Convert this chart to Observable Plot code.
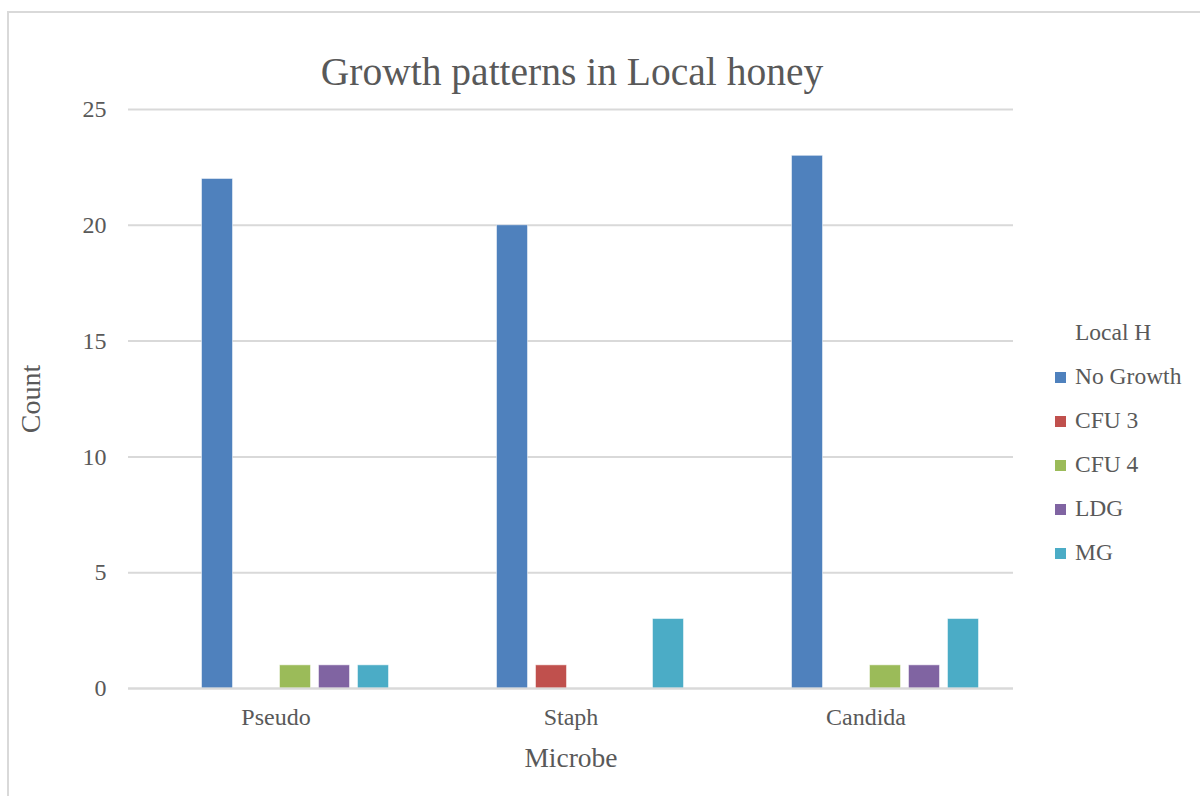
<!DOCTYPE html>
<html>
<head>
<meta charset="utf-8">
<script src="https://cdn.jsdelivr.net/npm/d3@7"></script>
<script src="https://cdn.jsdelivr.net/npm/@observablehq/plot@0.6"></script>
<style>
  body { margin: 0; background: #fff; }
  #wrap { position: relative; width: 1200px; height: 796px; overflow: hidden; font-family: "Liberation Serif", "DejaVu Serif", serif; color: #595959; }
  #wrap svg { position: absolute; left: 0; top: 0; }
  .lbl { position: absolute; white-space: nowrap; color: #595959; }
  #frameL { position: absolute; left: 7px; top: 12px; width: 2px; height: 800px; background: #d9d9d9; }
  #frameT { position: absolute; left: 7px; top: 11px; width: 1200px; height: 2px; background: #d9d9d9; }
  .leg { position: absolute; left: 1055px; font-size: 23.5px; line-height: 24px; color: #595959; white-space: nowrap; }
  .sw { display: inline-block; width: 11px; height: 11px; margin-right: 9px; vertical-align: 1px; }
</style>
</head>
<body>
<div id="wrap">
  <div id="frameL"></div>
  <div id="frameT"></div>
</div>
<script>
const microbes = ["Pseudo", "Staph", "Candida"];
const seriesNames = ["Local H", "No Growth", "CFU 3", "CFU 4", "LDG", "MG"];
const seriesColors = ["#ffffff", "#4F81BD", "#C0504D", "#9BBB59", "#8064A2", "#4BACC6"];
const noGrowth = [22, 20, 23];
const cfu3 = [0, 1, 0];
const cfu4 = [1, 0, 1];
const ldg = [1, 0, 1];
const mg = [1, 3, 3];
const yTicks = [0, 5, 10, 15, 20, 25];

const valuesBySeries = {"No Growth": noGrowth, "CFU 3": cfu3, "CFU 4": cfu4, "LDG": ldg, "MG": mg};
const data = [];
for (const s of seriesNames.slice(1)) {
  microbes.forEach((m, i) => data.push({microbe: m, series: s, value: valuesBySeries[s][i]}));
}

const plot = Plot.plot({
  width: 1200,
  height: 796,
  marginTop: 109,
  marginBottom: 108,
  marginLeft: 128,
  marginRight: 187,
  style: {fontFamily: "'Liberation Serif', 'DejaVu Serif', serif", color: "#595959", background: "transparent"},
  fx: {domain: microbes, padding: 0, label: null, round: false},
  x: {domain: seriesNames, paddingInner: 0.205, paddingOuter: 0.885, axis: null, round: false},
  y: {domain: [0, 25], label: null},
  color: {domain: seriesNames, range: seriesColors},
  marks: [
    Plot.gridY(yTicks, {stroke: "#d9d9d9", strokeOpacity: 1, strokeWidth: 2}),
    Plot.axisY(yTicks, {tickSize: 0, tickPadding: 22, fontSize: 24, label: null, fill: "#595959"}),
    Plot.axisFx({anchor: "bottom", tickSize: 0, tickPadding: 19, fontSize: 24, label: null, fill: "#595959"}),
    Plot.barY(data.filter(d => d.value > 0), {fx: "microbe", x: "series", y: "value", fill: "series", stroke: "#ffffff", strokeWidth: 1, strokeOpacity: 0.5}),
    Plot.ruleY([0], {stroke: "#d9d9d9", strokeWidth: 2})
  ]
});
const wrap = document.getElementById("wrap");
wrap.appendChild(plot);

function addLabel(text, x, y, size, rotate) {
  const d = document.createElement("div");
  d.className = "lbl";
  d.textContent = text;
  d.style.fontSize = size + "px";
  d.style.left = x + "px";
  d.style.top = y + "px";
  d.style.transform = "translate(-50%, -50%)" + (rotate ? " rotate(-90deg)" : "");
  wrap.appendChild(d);
}
addLabel("Growth patterns in Local honey", 572, 72, 39.5, false);
addLabel("Count", 31, 399, 28, true);
addLabel("Microbe", 571, 758, 27.5, false);

const legY = [332, 376, 420, 464, 508, 552];
seriesNames.forEach((s, i) => {
  const d = document.createElement("div");
  d.className = "leg";
  d.style.top = (legY[i] - 12) + "px";
  if (i === 0) {
    d.style.left = "1075px";
    d.textContent = s;
  } else {
    const sw = document.createElement("span");
    sw.className = "sw";
    sw.style.background = seriesColors[i];
    d.appendChild(sw);
    d.appendChild(document.createTextNode(s));
  }
  wrap.appendChild(d);
});
</script>
</body>
</html>
